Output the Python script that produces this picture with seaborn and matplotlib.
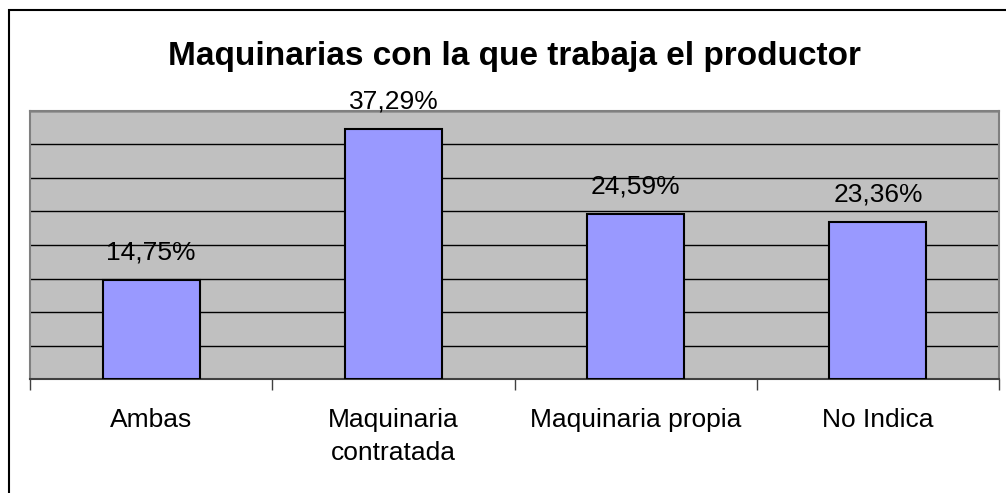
import pandas as pd
import matplotlib.pyplot as plt
import matplotlib.patches as mpatches
import seaborn as sns

# --- datos ---
categorias = ['Ambas', 'Maquinaria\ncontratada', 'Maquinaria propia', 'No Indica']
porcentajes = [14.75, 37.29, 24.59, 23.36]
ticks_y = [0, 5, 10, 15, 20, 25, 30, 35, 40]

df = pd.DataFrame({'categoria': categorias, 'porcentaje': porcentajes})

# --- estilo ---
sns.set_style('white')
plt.rcParams['font.family'] = ['Liberation Sans', 'DejaVu Sans']
plt.rcParams['text.color'] = 'black'
plt.rcParams['xtick.color'] = 'black'
plt.rcParams['xtick.labelcolor'] = 'black'

fig = plt.figure(figsize=(10.06, 4.93), dpi=100)
ax = fig.add_axes([30 / 1006, 1 - 379 / 493, (999 - 30) / 1006, (379 - 111) / 493])
ax.set_facecolor('#C0C0C0')

sns.barplot(data=df, x='categoria', y='porcentaje', color='#9999FF',
            saturation=1, width=0.4, edgecolor='black', linewidth=1.5,
            zorder=3, ax=ax)

ax.set_xlim(-0.5, len(categorias) - 0.5)
ax.set_ylim(ticks_y[0], ticks_y[-1])
ax.set_yticks(ticks_y)
ax.set_yticklabels([])
ax.tick_params(axis='y', length=0)
ax.yaxis.grid(True, color='black', linewidth=1)
ax.set_axisbelow(True)

# ticks entre categorias (estilo Excel)
ax.set_xticks([i - 0.5 for i in range(len(categorias) + 1)], minor=True)
ax.tick_params(axis='x', which='minor', bottom=True, length=8, width=1,
               color='#404040', direction='out')
ax.tick_params(axis='x', which='major', length=0, pad=21, labelsize=19,
               labelcolor='black')
for etiqueta in ax.get_xticklabels():
    etiqueta.set_linespacing(1.45)

for lado in ['left', 'right', 'top']:
    ax.spines[lado].set_color('#808080')
    ax.spines[lado].set_linewidth(1.5)
ax.spines['bottom'].set_color('#404040')
ax.spines['bottom'].set_linewidth(1.5)

ax.set_xlabel('')
ax.set_ylabel('')

# etiquetas de valores
for i, v in enumerate(porcentajes):
    ax.annotate(f'{v:.2f}%'.replace('.', ','), (i, v), xytext=(0, 15),
                textcoords='offset points', ha='center', va='baseline',
                fontsize=19, color='black', annotation_clip=False)

fig.text(515 / 1006, 1 - 56 / 493, 'Maquinarias con la que trabaja el productor',
         ha='center', va='center', fontsize=24, fontweight='bold', color='black')

# borde exterior del grafico
fig.patches.append(mpatches.Rectangle((9 / 1006, -0.2), 1.2, 0.2 + (493 - 10) / 493,
                                      transform=fig.transFigure, fill=False,
                                      edgecolor='black', linewidth=1.5))

fig.savefig('out.png', dpi=100, facecolor='white')
